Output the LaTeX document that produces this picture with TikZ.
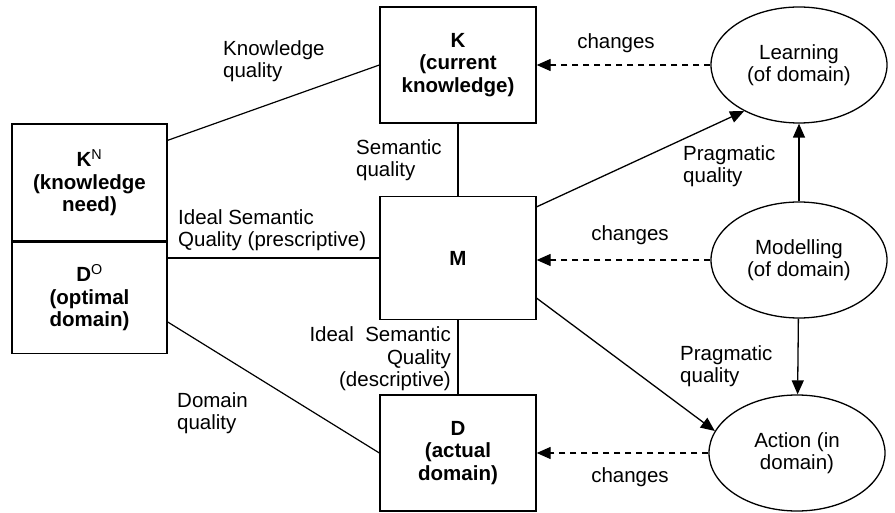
\documentclass[tikz,border=0pt]{standalone}
\usepackage{fontspec}
\setmainfont{Liberation Sans}
\usetikzlibrary{arrows.meta,shapes.geometric}

\begin{document}
\begin{tikzpicture}[x=1pt, y=-1pt,
    font=\fontsize{20.5}{22.5}\selectfont,
    box/.style={draw, line width=1.3pt, inner sep=0pt, align=center, font=\fontsize{20.5}{22.5}\selectfont\bfseries, minimum width=156pt, minimum height=116pt},
    blob/.style={draw, ellipse, line width=1.3pt, inner sep=0pt, align=center, minimum width=176pt, minimum height=116pt},
    lbl/.style={inner sep=0pt, align=left, anchor=west},
    link/.style={line width=1.2pt},
    arr/.style={line width=1.3pt, -{Triangle[length=14pt, width=12pt]}},
    chg/.style={arr, dash pattern=on 6pt off 5pt}]
          \useasboundingbox (0,0) rectangle (895,513);

          \node[box] (k) at (458,65) {K\\(current\\knowledge)};
          \node[box, minimum height=123pt] (m) at (458,258) {M};
          \node[box] (d) at (458,453) {D\\(actual\\domain)};

          \node[box, minimum width=155pt, minimum height=117pt] (kn) at (89.5,182.5) {K\textsuperscript{\mdseries N}\\(knowledge\\need)};
          \node[box, minimum width=155pt, minimum height=111pt, anchor=north] (do) at (kn.south) {D\textsuperscript{\mdseries O}\\(optimal\\domain)};

          \node[blob] (learn) at (799,65)  {Learning\\(of domain)};
          \node[blob] (model) at (799,260) {Modelling\\(of domain)};
          \node[blob] (act)   at (797,453) {Action (in\\domain)};

          \draw[link] ([yshift=-17pt]kn.north east) -- (k.west);
          \draw[link] (do.east |- m.west) -- (m.west);
          \draw[link] ([yshift=32pt]do.south east) -- (d.west);
          \draw[link] (k) -- (m);
          \draw[link] (m) -- (d);

          \draw[arr] ([yshift=-11pt]m.north east) -- (learn.220);
          \draw[arr] ([yshift=22pt]m.south east) -- (act.165);
          \draw[arr] (model) -- (learn);
          \draw[arr] (model) -- (act);

          \draw[chg] (learn.west) -- (learn.west -| k.east);
          \draw[chg] (model.west) -- (model.west -| m.east);
          \draw[chg] (act.west) -- (act.west -| d.east);

          \node[lbl] (kq) at (223,61) {Knowledge\\quality};
          \node[lbl] (sq) at (356,160) {Semantic\\quality};
          \node[lbl] (isqp) at (178,230) {Ideal Semantic\\Quality (prescriptive)};
          \node[lbl, align=right, anchor=east] (isqd) at (451,359) {Ideal\ \ Semantic\\Quality\\(descriptive)};
          \node[lbl] (dq) at (177,413) {Domain\\quality};

          \node[inner sep=0pt] (chk) at (616,43)  {changes};
          \node[inner sep=0pt] (chm) at (630,235) {changes};
          \node[inner sep=0pt] (chd) at (630,477) {changes};

          \node[lbl] (pq1) at (683,166) {Pragmatic\\quality};
          \node[lbl] (pq2) at (680,366) {Pragmatic\\quality};
        \end{tikzpicture}
\end{document}
